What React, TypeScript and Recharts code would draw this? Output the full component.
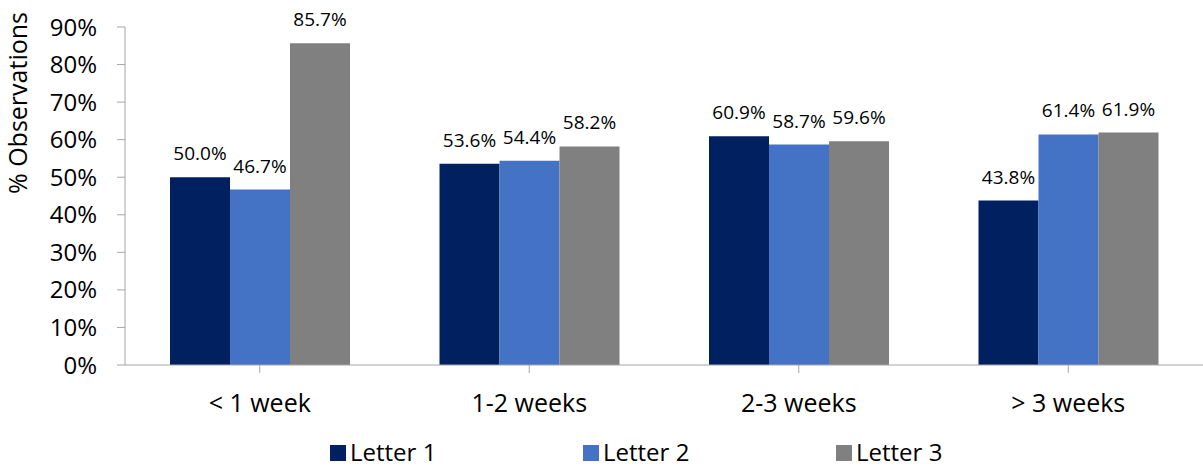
import { Bar, BarChart, LabelList, XAxis, YAxis } from "recharts"

const categories = ["< 1 week", "1-2 weeks", "2-3 weeks", "> 3 weeks"]
const letter1 = [50.0, 53.6, 60.9, 43.8]
const letter2 = [46.7, 54.4, 58.7, 61.4]
const letter3 = [85.7, 58.2, 59.6, 61.9]
const yTicks = [0, 10, 20, 30, 40, 50, 60, 70, 80, 90]

const series = [
  { key: "letter1", name: "Letter 1", color: "#002060", values: letter1 },
  { key: "letter2", name: "Letter 2", color: "#4472C4", values: letter2 },
  { key: "letter3", name: "Letter 3", color: "#808080", values: letter3 },
]

const data = categories.map((c, i) => ({
  cat: c,
  letter1: letter1[i],
  letter2: letter2[i],
  letter3: letter3[i],
}))

const FONT = "'Open Sans', sans-serif"
const AXIS = "#a6a6a6"

/** 수직 축 제목 — 위쪽 치우친 위치 */
function YTitle() {
  return (
    <text
      x={0}
      y={0}
      transform="translate(27 103) rotate(-90)"
      textAnchor="middle"
      fontFamily={FONT}
      fontSize={25}
      fill="#000"
    >
      % Observations
    </text>
  )
}

export default function App() {
  return (
    <div style={{ position: "absolute", left: 0, top: 0, width: 1203, height: 468 }}>
      <BarChart
        width={1203}
        height={468}
        data={data}
        margin={{ top: 27, right: 0, bottom: 0, left: 0 }}
        barCategoryGap="16.7%"
        barGap={0}
      >
        <XAxis
          dataKey="cat"
          height={103}
          tickSize={8}
          tickMargin={21}
          interval={0}
          stroke={AXIS}
          tick={{ fontSize: 25, fontFamily: FONT, fill: "#000" }}
        />
        <YAxis
          width={125}
          domain={[0, 90]}
          ticks={yTicks}
          interval={0}
          tickSize={8}
          tickMargin={20}
          stroke={AXIS}
          tickFormatter={(v: number) => `${v}%`}
          tick={{ fontSize: 24, fontFamily: FONT, fill: "#000" }}
          label={{ content: () => <YTitle /> }}
        />
        {series.map((s) => (
          <Bar key={s.key} dataKey={s.key} name={s.name} fill={s.color} isAnimationActive={false}>
            <LabelList
              dataKey={s.key}
              position="top"
              offset={17}
              formatter={(v: number) => `${v.toFixed(1)}%`}
              style={{ fontSize: 19, fontFamily: FONT, fill: "#000" }}
            />
          </Bar>
        ))}
      </BarChart>
      {/* 범례 — 하단 중앙, 고정 간격 */}
      <svg
        width={1203}
        height={468}
        style={{ position: "absolute", left: 0, top: 0, pointerEvents: "none" }}
      >
        {series.map((s, i) => (
          <g key={s.key}>
            <rect x={330 + i * 253} y={445} width={16} height={16} fill={s.color} />
            <text
              x={350 + i * 253}
              y={461}
              fontFamily={FONT}
              fontSize={24}
              fill="#000"
            >
              {s.name}
            </text>
          </g>
        ))}
      </svg>
    </div>
  )
}
